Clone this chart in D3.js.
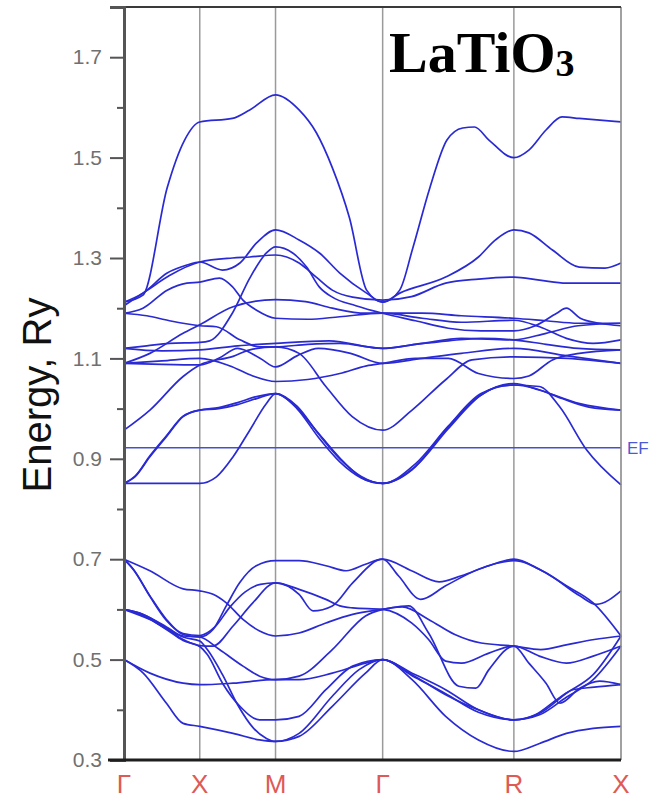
<!DOCTYPE html>
<html>
<head>
<meta charset="utf-8">
<script src="https://cdn.jsdelivr.net/npm/d3@7/dist/d3.min.js"></script>
<style>
  html, body { margin: 0; padding: 0; background: #fff; }
  svg { display: block; }
</style>
</head>
<body>
<div id="chart"></div>
<script>
// High-symmetry points along the cubic Brillouin-zone path (distance in 2π/a units)
const symLabels = ["Γ", "X", "M", "Γ", "R", "X"];
const symK = [0, 0.5, 1.0, 1.707, 2.573, 3.280];

// Energy axis (Ry)
const yMajorTicks = [0.3, 0.5, 0.7, 0.9, 1.1, 1.3, 1.5, 1.7];
const yMinorTicks = [0.4, 0.6, 0.8, 1.0, 1.2, 1.4, 1.6];
const fermiEnergy = 0.922;

// Bands: [path position, energy]; path position runs 0..5 across the symmetry points
const bandTop = [[0,1.212],[0.25,1.226],[0.57,1.44],[0.8,1.535],[1,1.571],[1.43,1.578],[1.66,1.595],[2,1.625],[2.22,1.595],[2.38,1.55],[2.53,1.48],[2.69,1.38],[2.85,1.236],[3,1.212],[3.13,1.236],[3.23,1.32],[3.36,1.44],[3.49,1.535],[3.61,1.559],[3.7,1.561],[3.81,1.535],[4,1.5],[4.14,1.515],[4.3,1.555],[4.45,1.581],[4.61,1.578],[5,1.571]];
const bandB1 = [[0,1.212],[0.25,1.23],[0.57,1.27],[0.83,1.286],[1,1.292],[1.3,1.276],[1.53,1.29],[1.75,1.33],[2,1.356],[2.22,1.336],[2.41,1.31],[2.6,1.27],[2.85,1.23],[3,1.212],[3.13,1.23],[3.48,1.262],[3.73,1.302],[3.86,1.336],[4,1.356],[4.14,1.35],[4.36,1.316],[4.61,1.282],[4.85,1.28],[5,1.29]];
const bandB2 = [[0,1.19],[0.25,1.2],[0.57,1.236],[0.83,1.25],[1,1.252],[1.26,1.26],[1.43,1.243],[1.57,1.216],[1.75,1.196],[2,1.18],[2.3,1.178],[2.6,1.183],[3,1.19],[3.3,1.18],[3.6,1.172],[4,1.176],[4.24,1.163],[4.49,1.14],[4.74,1.13],[5,1.137]];
const bandB3 = [[0,1.205],[0.3,1.235],[0.6,1.265],[1,1.292],[1.43,1.3],[1.66,1.302],[2,1.306],[2.22,1.29],[2.38,1.262],[2.53,1.236],[2.72,1.222],[3,1.216],[3.22,1.223],[3.48,1.25],[3.73,1.258],[4,1.262],[4.24,1.256],[4.49,1.25],[5,1.25]];
const bandB4 = [[0,1.12],[0.3,1.125],[0.6,1.13],[1,1.132],[1.13,1.135],[1.43,1.19],[1.66,1.26],[1.88,1.31],[2,1.322],[2.16,1.31],[2.29,1.282],[2.41,1.242],[2.53,1.222],[2.75,1.205],[3,1.19],[3.25,1.175],[3.5,1.16],[3.75,1.155],[4,1.155],[4.2,1.165],[4.4,1.19],[4.49,1.2],[4.62,1.18],[4.8,1.17],[5,1.165]];
const bandB5 = [[0,1.19],[0.3,1.185],[0.6,1.175],[1,1.165],[1.22,1.163],[1.53,1.137],[1.79,1.123],[2,1.123],[2.3,1.128],[2.6,1.13],[3,1.12],[3.3,1.13],[3.6,1.14],[4,1.137],[4.3,1.15],[4.6,1.165],[5,1.17]];
const bandB6 = [[0,1.12],[0.5,1.115],[1,1.117],[1.5,1.125],[2,1.13],[2.5,1.135],[3,1.12],[3.25,1.128],[3.5,1.135],[3.75,1.14],[4,1.137],[4.3,1.128],[4.6,1.12],[5,1.117]];
const bandB7 = [[0,1.09],[0.342,1.11],[0.78,1.15],[1,1.167],[1.44,1.203],[2,1.217],[2.28,1.213],[2.53,1.2],[2.84,1.19],[3,1.19],[3.3,1.19],[3.6,1.185],[4,1.18],[4.3,1.175],[4.6,1.17],[5,1.17]];
const bandB8 = [[0,1.09],[0.5,1.088],[1,1.087],[1.25,1.1],[1.5,1.12],[1.8,1.1],[2,1.083],[2.2,1.105],[2.4,1.12],[2.7,1.11],[3,1.09],[3.3,1.1],[3.6,1.11],[4,1.12],[4.5,1.105],[5,1.09]];
const bandB9 = [[0,1.09],[0.5,1.095],[1,1.1],[1.4,1.085],[1.7,1.065],[2,1.054],[2.3,1.058],[2.6,1.07],[2.85,1.085],[3,1.09],[3.25,1.1],[3.5,1.1],[3.73,1.07],[4,1.06],[4.14,1.065],[4.36,1.097],[4.61,1.11],[5,1.117]];
const bandB10 = [[0,0.957],[0.342,0.997],[0.78,1.064],[1,1.087],[1.44,1.104],[1.66,1.117],[2,1.123],[2.22,1.11],[2.47,1.044],[2.716,0.984],[3,0.957],[3.224,0.997],[3.478,1.057],[3.68,1.097],[4,1.103],[4.5,1.1],[5,1.09]];
const bandT1 = [[0,0.851],[0.5,0.851],[1,0.851],[1.22,0.864],[1.44,0.904],[1.66,0.957],[1.88,1.01],[2,1.03],[2.16,1.01],[2.377,0.957],[2.59,0.904],[2.84,0.858],[3,0.851],[3.224,0.878],[3.478,0.957],[3.733,1.024],[3.885,1.044],[4,1.047],[4.237,1.044],[4.426,1.004],[4.678,0.918],[5,0.848]];
const bandT2 = [[0,0.851],[0.15,0.865],[0.342,0.904],[0.56,0.944],[0.78,0.984],[1,0.997],[1.25,1.0],[1.5,1.008],[1.75,1.02],[2,1.03],[2.2,1.005],[2.4,0.95],[2.6,0.9],[2.8,0.865],[3,0.851],[3.25,0.885],[3.5,0.96],[3.75,1.027],[4,1.05],[4.237,1.037],[4.615,1.01],[5,0.997]];
const bandT3 = [[0,0.851],[0.15,0.866],[0.342,0.906],[0.56,0.946],[0.78,0.985],[1,0.997],[1.25,1.002],[1.5,1.012],[1.75,1.024],[2,1.03],[2.2,1.0],[2.4,0.943],[2.6,0.894],[2.8,0.862],[3,0.851],[3.25,0.89],[3.5,0.965],[3.75,1.03],[4,1.047],[4.2,1.04],[4.45,1.02],[4.7,1.003],[5,0.997]];

const bandV1 = [[0,0.7],[0.342,0.677],[0.78,0.641],[1,0.637],[1.175,0.63],[1.35,0.613],[1.57,0.58],[1.79,0.557],[2,0.547],[2.22,0.553],[2.47,0.573],[2.72,0.59],[3,0.6],[3.198,0.607],[3.35,0.553],[3.58,0.447],[3.71,0.443],[3.81,0.48],[4,0.527],[4.237,0.507],[4.49,0.493],[4.74,0.507],[5,0.527]];
const bandV2 = [[0,0.7],[0.123,0.68],[0.342,0.627],[0.56,0.58],[0.78,0.55],[1,0.545],[1.175,0.56],[1.35,0.607],[1.526,0.653],[1.746,0.687],[2,0.697],[2.22,0.697],[2.47,0.687],[2.66,0.677],[2.84,0.69],[3,0.7],[3.22,0.677],[3.43,0.655],[3.6,0.667],[3.81,0.687],[4,0.7],[4.237,0.68],[4.49,0.647],[4.74,0.613],[5,0.547]];
const bandV3 = [[0,0.7],[0.13,0.678],[0.35,0.624],[0.56,0.578],[0.78,0.552],[1,0.548],[1.2,0.565],[1.4,0.605],[1.6,0.635],[1.8,0.65],[2,0.653],[2.22,0.63],[2.35,0.597],[2.53,0.607],[2.72,0.653],[3,0.7],[3.12,0.667],[3.29,0.62],[3.48,0.647],[3.73,0.68],[4,0.697],[4.3,0.673],[4.615,0.627],[4.77,0.61],[5,0.637]];
const bandV4 = [[0,0.6],[0.254,0.59],[0.56,0.563],[0.78,0.54],[1,0.528],[1.175,0.527],[1.44,0.567],[1.7,0.613],[2,0.653],[2.22,0.64],[2.47,0.62],[2.6,0.607],[2.72,0.603],[3,0.6],[3.22,0.573],[3.35,0.54],[3.48,0.497],[3.6,0.493],[3.81,0.513],[4,0.527],[4.14,0.493],[4.3,0.453],[4.43,0.413],[4.615,0.443],[4.8,0.457],[5,0.45]];
const bandV5 = [[0,0.6],[0.25,0.588],[0.56,0.56],[0.78,0.538],[1,0.526],[1.1,0.51],[1.3,0.453],[1.53,0.407],[1.79,0.38],[2,0.38],[2.22,0.387],[2.47,0.44],[2.72,0.487],[3,0.5],[3.224,0.473],[3.48,0.44],[3.73,0.4],[4,0.38],[4.24,0.393],[4.49,0.433],[4.74,0.47],[5,0.547]];
const bandV6 = [[0,0.6],[0.342,0.58],[0.78,0.547],[1,0.545],[1.26,0.52],[1.57,0.487],[1.79,0.467],[2,0.46],[2.22,0.467],[2.53,0.52],[2.84,0.587],[3,0.6],[3.15,0.605],[3.35,0.58],[3.55,0.55],[3.75,0.533],[4,0.527],[4.25,0.52],[4.5,0.53],[4.75,0.54],[5,0.547]];
const bandV7 = [[0,0.5],[0.342,0.473],[0.78,0.453],[1,0.45],[1.44,0.453],[2,0.46],[2.22,0.46],[2.53,0.473],[2.84,0.493],[3,0.5],[3.224,0.46],[3.48,0.387],[3.73,0.34],[4,0.317],[4.24,0.333],[4.49,0.353],[4.74,0.363],[5,0.367]];
const bandV8 = [[0,0.5],[0.254,0.473],[0.56,0.413],[0.78,0.373],[1,0.367],[1.44,0.353],[1.79,0.34],[2,0.337],[2.22,0.353],[2.53,0.427],[2.78,0.48],[3,0.5],[3.224,0.468],[3.48,0.432],[3.73,0.395],[4,0.38],[4.2,0.39],[4.4,0.42],[4.55,0.44],[4.75,0.445],[5,0.45]];
const bandV9 = [[0,0.6],[0.254,0.59],[0.56,0.565],[0.78,0.545],[1,0.537],[1.1,0.52],[1.3,0.47],[1.5,0.41],[1.7,0.365],[1.88,0.343],[2,0.337],[2.22,0.347],[2.53,0.407],[2.84,0.473],[3,0.5],[3.224,0.47],[3.48,0.43],[3.73,0.4],[4,0.38],[4.24,0.39],[4.49,0.425],[4.74,0.46],[5,0.527]];

const bands = [bandTop, bandB1, bandB2, bandB3, bandB4, bandB5, bandB6, bandB7, bandB8, bandB9, bandB10,
               bandT1, bandT2, bandT3,
               bandV1, bandV2, bandV3, bandV4, bandV5, bandV6, bandV7, bandV8, bandV9];

// Layout
const W = 657, H = 801;
const margin = { top: 7, right: 36, bottom: 41, left: 124 };
const innerW = W - margin.left - margin.right;
const innerH = H - margin.top - margin.bottom;

const svg = d3.select("#chart").append("svg")
  .attr("width", W).attr("height", H)
  .style("font-family", "'Liberation Sans', Arial, sans-serif");

const g = svg.append("g").attr("transform", `translate(${margin.left},${margin.top})`);

const kScale = d3.scaleLinear().domain([0, symK[symK.length - 1]]).range([0, innerW]);
const pathToK = d3.scaleLinear().domain(d3.range(symK.length)).range(symK);
const x = t => kScale(pathToK(t));
const y = d3.scaleLinear().domain([0.3, 1.8]).range([innerH, 0]);

// Vertical lines at the high-symmetry points
g.selectAll("line.sym").data(symK.slice(1, -1)).join("line")
  .attr("class", "sym")
  .attr("x1", d => kScale(d)).attr("x2", d => kScale(d))
  .attr("y1", 0).attr("y2", innerH)
  .attr("stroke", "#9a9a9a").attr("stroke-width", 1.5);

// Fermi level
g.append("line")
  .attr("x1", 0).attr("x2", innerW)
  .attr("y1", y(fermiEnergy)).attr("y2", y(fermiEnergy))
  .attr("stroke", "#4450d0").attr("stroke-width", 1.4);
g.append("text")
  .attr("x", innerW + 6).attr("y", y(fermiEnergy))
  .attr("dy", "0.36em")
  .attr("fill", "#4c5ad6").attr("font-size", 17)
  .text("EF");

// Band lines
const line = d3.line()
  .x(d => x(d[0]))
  .y(d => y(d[1]))
  .curve(d3.curveMonotoneX);

g.append("g").selectAll("path").data(bands).join("path")
  .attr("d", line)
  .attr("fill", "none")
  .attr("stroke", "#2a2ad4")
  .attr("stroke-width", 1.7)
  .attr("stroke-linejoin", "round");

// Frame
g.append("line").attr("x1", innerW).attr("x2", innerW).attr("y1", 0).attr("y2", innerH)
  .attr("stroke", "#8a8a8a").attr("stroke-width", 1.6);
g.append("line").attr("x1", 0).attr("x2", innerW).attr("y1", 0).attr("y2", 0)
  .attr("stroke", "#3a3a3a").attr("stroke-width", 2.2);

// Y axis with major and minor ticks
const yAxis = d3.axisLeft(y).tickValues(yMajorTicks).tickSize(14).tickPadding(8)
  .tickFormat(d3.format(".1f"));
const yAxisG = g.append("g").call(yAxis);
yAxisG.select(".domain").attr("stroke", "#555").attr("stroke-width", 3);
yAxisG.selectAll(".tick line").attr("stroke", "#555").attr("stroke-width", 2);
yAxisG.selectAll(".tick text")
  .attr("fill", "#707070").attr("font-size", 21)
  .style("font-family", "'Liberation Sans', Arial, sans-serif");

const yMinor = g.append("g").call(d3.axisLeft(y).tickValues(yMinorTicks).tickSize(7).tickFormat(""));
yMinor.select(".domain").remove();
yMinor.selectAll(".tick line").attr("stroke", "#555").attr("stroke-width", 2);

// Bottom axis line
g.append("line").attr("x1", -16).attr("x2", innerW).attr("y1", innerH).attr("y2", innerH)
  .attr("stroke", "#1e1e1e").attr("stroke-width", 3);

// Symmetry point labels
g.selectAll("text.sym").data(symLabels).join("text")
  .attr("class", "sym")
  .attr("x", (d, i) => kScale(symK[i]))
  .attr("y", innerH + 33)
  .attr("text-anchor", "middle")
  .attr("fill", "#de5a56")
  .attr("font-size", 26)
  .text(d => d);

// Axis title
svg.append("text")
  .attr("transform", "translate(51,395) rotate(-90)")
  .attr("text-anchor", "middle")
  .attr("fill", "#111")
  .attr("font-size", 40)
  .text("Energy, Ry");

// Compound label
const title = svg.append("text")
  .attr("x", 389).attr("y", 72)
  .attr("fill", "#000")
  .style("font-family", "'Liberation Serif', 'Times New Roman', serif")
  .attr("font-weight", "bold")
  .attr("font-size", 58);
title.append("tspan").text("LaTiO");
title.append("tspan").attr("font-size", 38).attr("dy", 4).text("3");
</script>
</body>
</html>
